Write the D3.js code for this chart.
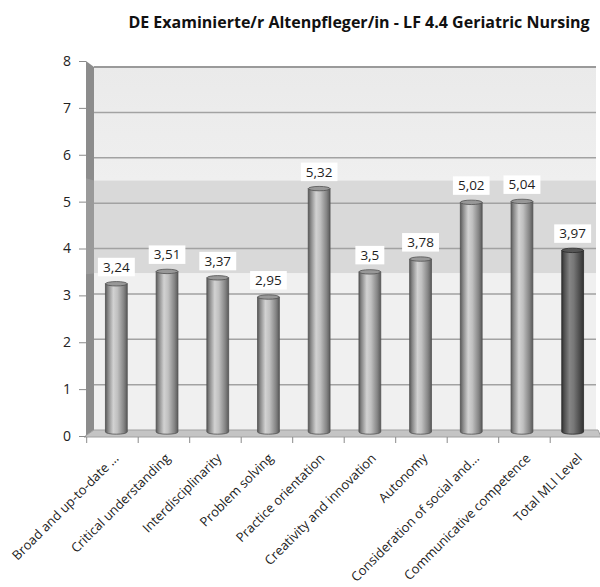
<!DOCTYPE html>
<html>
<head>
<meta charset="utf-8">
<script src="https://cdn.jsdelivr.net/npm/d3@7"></script>
<style>
  html, body { margin: 0; padding: 0; background: #ffffff; }
  svg { display: block; }
</style>
</head>
<body>
<svg id="chart" width="600" height="587"></svg>
<script>
// Competence profile: mean MLI level per dimension
const categories = [
  "Broad and up-to-date ...",
  "Critical understanding",
  "Interdisciplinarity",
  "Problem solving",
  "Practice orientation",
  "Creativity and innovation",
  "Autonomy",
  "Consideration of social and...",
  "Communicative competence",
  "Total MLI Level"
];
const values = [3.24, 3.51, 3.37, 2.95, 5.32, 3.5, 3.78, 5.02, 5.04, 3.97];
const valueLabels = ["3,24", "3,51", "3,37", "2,95", "5,32", "3,5", "3,78", "5,02", "5,04", "3,97"];
const yTicks = [0, 1, 2, 3, 4, 5, 6, 7, 8];
const targetBand = [3.45, 5.5];
const titleText = "DE Examinierte/r Altenpfleger/in - LF 4.4 Geriatric Nursing";

const FONT = "'Open Sans', 'Noto Sans', sans-serif";
const svg = d3.select("#chart");

// Scales: front edge (axis), back wall (grid), and bar depth plane
const yFront = d3.scaleLinear().domain([0, 8]).range([436, 61]);
const yBack = d3.scaleLinear().domain([0, 8]).range([430, 67]);
const yBar = d3.scaleLinear().domain([0, 8]).range([432, 66]);
const xFront = d3.scaleBand().domain(categories).range([86.7, 601.7]);
const xBar = d3.scaleBand().domain(categories).range([91, 598])
  .paddingInner(0.57).paddingOuter(0.285);

const wallLeft = 94, wallRight = 596;

// Gradients
const defs = svg.append("defs");
function cylGrad(id, stops) {
  const g = defs.append("linearGradient").attr("id", id)
    .attr("x1", "0%").attr("x2", "100%").attr("y1", "0%").attr("y2", "0%");
  stops.forEach(([o, c]) => g.append("stop").attr("offset", o).attr("stop-color", c));
}
cylGrad("cyl", [["0%", "#5a5a5a"], ["12%", "#888888"], ["36%", "#d2d2d2"], ["55%", "#c0c0c0"], ["84%", "#858585"], ["100%", "#5a5a5a"]]);
cylGrad("cylDark", [["0%", "#333333"], ["12%", "#515151"], ["36%", "#858585"], ["55%", "#777777"], ["84%", "#4a4a4a"], ["100%", "#333333"]]);
const wallGrad = defs.append("linearGradient").attr("id", "wallTop")
  .attr("x1", "0%").attr("x2", "0%").attr("y1", "0%").attr("y2", "100%");
wallGrad.append("stop").attr("offset", "0%").attr("stop-color", "#eaeaea");
wallGrad.append("stop").attr("offset", "100%").attr("stop-color", "#efefef");

// Back wall
svg.append("rect")
  .attr("x", wallLeft).attr("y", yBack(8))
  .attr("width", wallRight - wallLeft).attr("height", yBack(targetBand[1]) - yBack(8))
  .attr("fill", "url(#wallTop)");
svg.append("rect")
  .attr("x", wallLeft).attr("y", yBack(targetBand[1]))
  .attr("width", wallRight - wallLeft).attr("height", yBack(targetBand[0]) - yBack(targetBand[1]))
  .attr("fill", "#d9d9d9");
svg.append("rect")
  .attr("x", wallLeft).attr("y", yBack(targetBand[0]))
  .attr("width", wallRight - wallLeft).attr("height", yBack(0) - yBack(targetBand[0]))
  .attr("fill", "#f0f0f0");

// Gridlines on back wall
svg.append("g").selectAll("line")
  .data(yTicks.filter(t => t > 0))
  .join("line")
  .attr("x1", wallLeft).attr("x2", wallRight)
  .attr("y1", d => yBack(d)).attr("y2", d => yBack(d))
  .attr("stroke", d => d === 8 ? "#9a9a9a" : "#a2a2a2")
  .attr("stroke-width", d => d === 8 ? 2 : 1.5);

// Left side wall
svg.append("polygon")
  .attr("points", [[86, yFront(8)], [wallLeft, yBack(8)], [wallLeft, yBack(0)], [86, yFront(0)]].join(" "))
  .attr("fill", "#8c8c8c");
svg.append("polygon")
  .attr("points", [[86, yFront(targetBand[1])], [wallLeft, yBack(targetBand[1])], [wallLeft, yBack(targetBand[0])], [86, yFront(targetBand[0])]].join(" "))
  .attr("fill", "#9a9a9a");

// Floor
svg.append("polygon")
  .attr("points", [[84, yFront(0) + 1], [wallLeft, yBack(0)], [598, yBack(0)], [601, yFront(0) + 1]].join(" "))
  .attr("fill", "#c4c4c4").attr("stroke", "#a0a0a0").attr("stroke-width", 1);

// Cylinders
const bw = xBar.bandwidth();
const ry = 2.2;
const bars = svg.append("g").selectAll("g")
  .data(categories.map((c, i) => ({ c, v: values[i], label: valueLabels[i], last: i === categories.length - 1 })))
  .join("g");
bars.append("path")
  .attr("d", d => {
    const x0 = xBar(d.c), x1 = x0 + bw, yt = yBar(d.v), yb = yBar(0);
    return `M${x0},${yt} L${x0},${yb} A${bw / 2},${ry} 0 0 0 ${x1},${yb} L${x1},${yt} Z`;
  })
  .attr("fill", d => d.last ? "url(#cylDark)" : "url(#cyl)")
  .attr("stroke", d => d.last ? "#2a2a2a" : "#505050")
  .attr("stroke-width", 0.8);
bars.append("ellipse")
  .attr("cx", d => xBar(d.c) + bw / 2).attr("cy", d => yBar(d.v))
  .attr("rx", bw / 2).attr("ry", ry)
  .attr("fill", d => d.last ? "#565656" : "#989898")
  .attr("stroke", d => d.last ? "#2a2a2a" : "#505050").attr("stroke-width", 0.8);

// Value labels in white boxes
const lbl = bars.append("g")
  .attr("transform", d => `translate(${xBar(d.c) + bw / 2},${yBar(d.v) - 12})`);
lbl.append("rect").attr("fill", "#ffffff");
lbl.append("text")
  .attr("text-anchor", "middle")
  .attr("font-family", FONT)
  .attr("font-size", 13.5)
  .attr("fill", "#1e1e1e")
  .text(d => d.label);
lbl.each(function () {
  const g = d3.select(this);
  const bb = g.select("text").node().getBBox();
  g.select("rect")
    .attr("x", -bb.width / 2 - 5).attr("y", -14)
    .attr("width", bb.width + 10).attr("height", 18.5);
});

// Value axis on the front edge
const yAxis = svg.append("g")
  .attr("transform", "translate(86,0)")
  .call(d3.axisLeft(yFront).tickValues(yTicks).tickSizeInner(7).tickSizeOuter(0).tickPadding(8).tickFormat(d3.format("d")));
yAxis.select(".domain").remove();
yAxis.selectAll("line").attr("stroke", "#8a8a8a");
yAxis.selectAll("text").attr("font-size", 14).attr("fill", "#222").attr("font-family", FONT);

// Category axis: boundary ticks and rotated labels
svg.append("g").selectAll("line")
  .data(categories.map(c => xFront(c)).concat([xFront.range()[1]]))
  .join("line")
  .attr("x1", d => d).attr("x2", d => d)
  .attr("y1", yFront(0) + 1).attr("y2", yFront(0) + 7)
  .attr("stroke", "#8a8a8a");

const xAxis = svg.append("g")
  .attr("transform", `translate(0,${yFront(0)})`)
  .call(d3.axisBottom(xFront).tickSize(0).tickPadding(0));
xAxis.select(".domain").remove();
xAxis.selectAll("text")
  .attr("font-size", 13)
  .attr("fill", "#222")
  .attr("font-family", FONT)
  .attr("text-anchor", "end")
  .attr("dy", 0).attr("y", 0)
  .attr("transform", "translate(7,23) rotate(-45)");

// Title
svg.append("text")
  .attr("x", 359).attr("y", 28)
  .attr("text-anchor", "middle")
  .attr("font-family", FONT)
  .attr("font-size", 16)
  .attr("font-weight", "bold")
  .attr("fill", "#111")
  .text(titleText);
</script>
</body>
</html>
